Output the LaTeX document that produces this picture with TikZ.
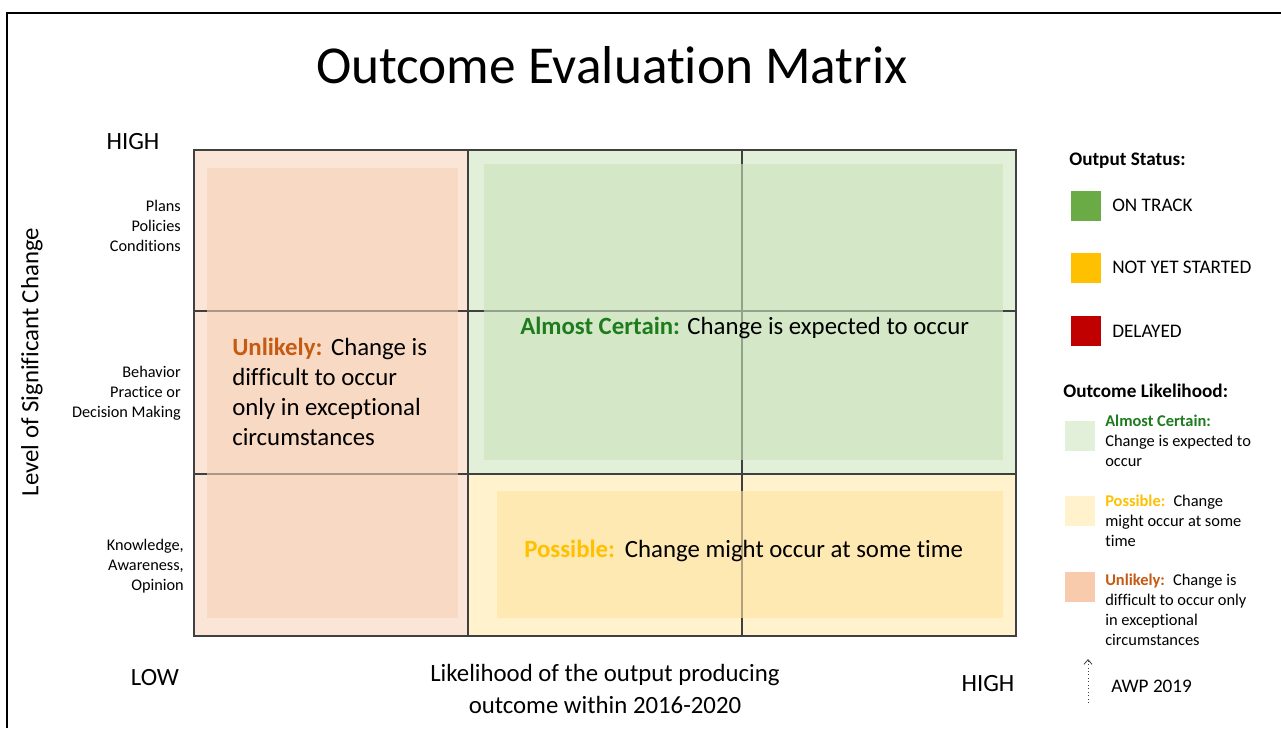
\documentclass[tikz,border=0pt]{standalone}
\usepackage{fontspec}
\setmainfont{Carlito}[Ligatures=NoCommon]
\usetikzlibrary{arrows.meta}
\definecolor{peachA}{HTML}{FBE5D6}
\definecolor{peachB}{HTML}{F6D1B8}
\definecolor{greenA}{HTML}{E2F0D9}
\definecolor{greenB}{HTML}{CCE3BE}
\definecolor{yelA}{HTML}{FFF2CC}
\definecolor{yelB}{HTML}{FFE3A2}
\definecolor{unlC}{HTML}{C55A11}
\definecolor{acC}{HTML}{1E7B1E}
\definecolor{posC}{HTML}{FFC000}
\definecolor{stGreen}{HTML}{6AAB45}
\definecolor{stYellow}{HTML}{FFC000}
\definecolor{stRed}{HTML}{C00000}
\definecolor{legPeach}{HTML}{F8CBAD}
\definecolor{gridC}{HTML}{404040}
\begin{document}
\begin{tikzpicture}[x=0.75pt,y=-0.75pt,
  gridline/.style={draw=gridC, line width=1pt},
  big/.style={font=\fontsize{18.6}{24}\selectfont, inner sep=0},
  rowlab/.style={font=\fontsize{12.2}{15}\selectfont, align=right, anchor=east, inner sep=0},
  cell/.style={font=\fontsize{18.6}{22.5}\selectfont, inner sep=0, anchor=west},
  legsq/.style={minimum size=22.5pt, inner sep=0, draw=none},
  legtxt/.style={font=\fontsize{14.4}{18}\selectfont, anchor=west, inner sep=0},
  leghead/.style={font=\bfseries\fontsize{14.4}{18}\selectfont, anchor=west, inner sep=0},
  legsmall/.style={font=\fontsize{12.3}{15}\selectfont, anchor=west, align=left, inner sep=0},
]
\fill[white] (0,0) rectangle (1281,728);
\useasboundingbox (0,0) rectangle (1281,728);
\draw[line width=1.5pt] (7,728) -- (7,13) -- (1281,13);

% title
\node[font=\fontsize{40}{48}\selectfont, inner sep=0] (title) at (612,65) {Outcome Evaluation Matrix};

% matrix backgrounds
\fill[peachA] (194,150) rectangle (468,636);
\fill[greenA] (468,150) rectangle (1016,474);
\fill[yelA] (468,474) rectangle (1016,636);

% grid
\draw[gridline] (194,150) rectangle (1016,636);
\draw[gridline] (468,150) -- (468,636);
\draw[gridline] (742,150) -- (742,636);
\draw[gridline] (194,311) -- (1016,311);
\draw[gridline] (194,474) -- (1016,474);

% inner translucent areas
\fill[peachB, opacity=0.6] (207,168) rectangle (458,618);
\fill[greenB, opacity=0.6] (484,164) rectangle (1003,460);
\fill[yelB, opacity=0.6] (497,491) rectangle (1003,618);

% axis labels
\node[big] (hightop) at (133,142) {HIGH};
\node[big] (low) at (155,678) {LOW};
\node[big] (highbot) at (988,684) {HIGH};
\node[big, rotate=90] (ylab) at (32,362) {Level of Significant Change};
\node[big, align=center] (xlab) at (605,689) {Likelihood of the output producing\\outcome within 2016-2020};

% row labels
\node[rowlab] (row1) at (181,226) {Plans\\Policies\\Conditions};
\node[rowlab] (row2) at (181,393) {Behavior\\Practice or\\Decision Making};
\node[rowlab] (row3) at (184,566) {Knowledge,\\Awareness,\\Opinion};

% cell texts
\node[cell, align=left] (unl) at (232,392) {\textcolor{unlC}{\textbf{Unlikely:}}\hspace{0.05em} Change is\\difficult to occur\\only in exceptional\\circumstances};
\node[cell] (ac) at (520,328) {\textcolor{acC}{\textbf{Almost Certain:}} Change is expected to occur};
\node[cell] (pos) at (524,551) {\textcolor{posC}{\textbf{Possible:}}\hspace{0.1em} Change might occur at some time};

% legend: output status
\node[leghead] (os) at (1069,161) {Output Status:};
\node[legsq, fill=stGreen] (sq1) at (1086,206) {};
\node[legtxt] (t1) at (1112,205) {ON TRACK};
\node[legsq, fill=stYellow] (sq2) at (1086,268) {};
\node[legtxt] (t2) at (1112,267) {NOT YET STARTED};
\node[legsq, fill=stRed] (sq3) at (1086,331) {};
\node[legtxt] (t3) at (1112,331) {DELAYED};

% legend: outcome likelihood
\node[leghead] (ol) at (1063,391) {Outcome Likelihood:};
\node[legsq, fill=greenA] (lsq1) at (1080,436) {};
\node[legsmall] (l1) at (1105,441) {\textcolor{acC}{\textbf{Almost Certain:}}\\Change is expected to\\occur};
\node[legsq, fill=yelA] (lsq2) at (1080,511) {};
\node[legsmall] (l2) at (1105,521) {\textcolor{posC}{\textbf{Possible:}}\hspace{0.2em} Change\\might occur at some\\time};
\node[legsq, fill=legPeach] (lsq3) at (1080,587) {};
\node[legsmall] (l3) at (1105,610) {\textcolor{unlC}{\textbf{Unlikely:}}\hspace{0.2em} Change is\\difficult to occur only\\in exceptional\\circumstances};

% AWP arrow
\coordinate (arB) at (1088,703);
\coordinate (arT) at (1088,659);
\draw[dotted, line width=0.6pt, black!75, -{Straight Barb[length=3.5pt,width=6pt]}] (arB) -- (arT);
\node[legtxt] (awp) at (1111,686) {AWP 2019};
\end{tikzpicture}
\end{document}
